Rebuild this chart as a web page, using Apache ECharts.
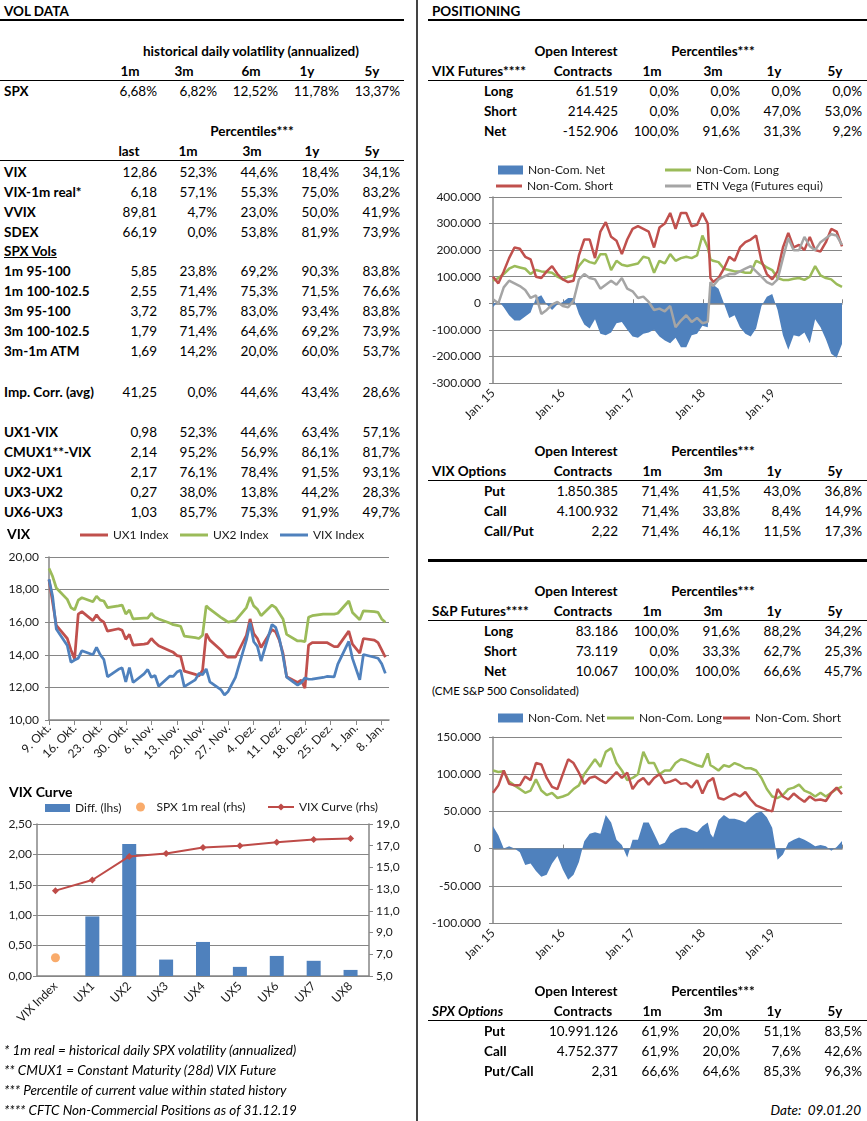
<!DOCTYPE html>
<html><head><meta charset="utf-8">
<script src="https://cdn.jsdelivr.net/npm/echarts@6/dist/echarts.min.js"></script>
<style>
body{margin:0;width:867px;height:1121px;position:relative;background:#fff;font-family:Lato,'Open Sans',sans-serif;overflow:hidden}
.t{position:absolute;white-space:pre;font-size:13.5px;line-height:16px;color:#000}
.b{font-weight:bold}
.i{font-style:italic}
.u{text-decoration:underline}
.ln{position:absolute;background:#000}
.ch{position:absolute}
</style></head><body>
<div id="c1" class="ch" style="left:0;top:522px;width:415px;height:268px"></div>
<div id="c2" class="ch" style="left:0;top:785px;width:415px;height:255px"></div>
<div id="c3" class="ch" style="left:419px;top:155px;width:448px;height:280px"></div>
<div id="c4" class="ch" style="left:419px;top:700px;width:448px;height:285px"></div>
<script>
// ---------------- TABLE DATA ----------------
const histVolHeaders = ['1m','3m','6m','1y','5y'];
const spxHistVol = ['6,68%','6,82%','12,52%','11,78%','13,37%'];
const pctHeaders = ['last','1m','3m','1y','5y'];
const volRowLabels = ['VIX','VIX-1m real*','VVIX','SDEX','1m 95-100','1m 100-102.5','3m 95-100','3m 100-102.5','3m-1m ATM','Imp. Corr. (avg)','UX1-VIX','CMUX1**-VIX','UX2-UX1','UX3-UX2','UX6-UX3'];
const volRowValues = [
 ['12,86','52,3%','44,6%','18,4%','34,1%'],
 ['6,18','57,1%','55,3%','75,0%','83,2%'],
 ['89,81','4,7%','23,0%','50,0%','41,9%'],
 ['66,19','0,0%','53,8%','81,9%','73,9%'],
 ['5,85','23,8%','69,2%','90,3%','83,8%'],
 ['2,55','71,4%','75,3%','71,5%','76,6%'],
 ['3,72','85,7%','83,0%','93,4%','83,8%'],
 ['1,79','71,4%','64,6%','69,2%','73,9%'],
 ['1,69','14,2%','20,0%','60,0%','53,7%'],
 ['41,25','0,0%','44,6%','43,4%','28,6%'],
 ['0,98','52,3%','44,6%','63,4%','57,1%'],
 ['2,14','95,2%','56,9%','86,1%','81,7%'],
 ['2,17','76,1%','78,4%','91,5%','93,1%'],
 ['0,27','38,0%','13,8%','44,2%','28,3%'],
 ['1,03','85,7%','75,3%','91,9%','49,7%']];
const posHeaders = ['Contracts','1m','3m','1y','5y'];
const vixFutLabels = ['Long','Short','Net'];
const vixFutValues = [['61.519','0,0%','0,0%','0,0%','0,0%'],['214.425','0,0%','0,0%','47,0%','53,0%'],['-152.906','100,0%','91,6%','31,3%','9,2%']];
const vixOptLabels = ['Put','Call','Call/Put'];
const vixOptValues = [['1.850.385','71,4%','41,5%','43,0%','36,8%'],['4.100.932','71,4%','33,8%','8,4%','14,9%'],['2,22','71,4%','46,1%','11,5%','17,3%']];
const spFutLabels = ['Long','Short','Net'];
const spFutValues = [['83.186','100,0%','91,6%','88,2%','34,2%'],['73.119','0,0%','33,3%','62,7%','25,3%'],['10.067','100,0%','100,0%','66,6%','45,7%']];
const spxOptLabels = ['Put','Call','Put/Call'];
const spxOptValues = [['10.991.126','61,9%','20,0%','51,1%','83,5%'],['4.752.377','61,9%','20,0%','7,6%','42,6%'],['2,31','66,6%','64,6%','85,3%','96,3%']];
const footnotes = ['* 1m real = historical daily SPX volatility (annualized)','** CMUX1 = Constant Maturity (28d) VIX Future','*** Percentile of current value within stated history','**** CFTC Non-Commercial Positions as of 31.12.19'];

// ---------------- CHART DATA ----------------
const vixDates = ['2019-10-09','2019-10-10','2019-10-11','2019-10-14','2019-10-15','2019-10-16','2019-10-17','2019-10-18','2019-10-21','2019-10-22','2019-10-23','2019-10-24','2019-10-25','2019-10-28','2019-10-29','2019-10-30','2019-10-31',
 '2019-11-01','2019-11-04','2019-11-05','2019-11-06','2019-11-07','2019-11-08','2019-11-11','2019-11-12','2019-11-13','2019-11-14','2019-11-15','2019-11-18','2019-11-19','2019-11-20','2019-11-21','2019-11-22','2019-11-25','2019-11-26','2019-11-27','2019-11-29',
 '2019-12-02','2019-12-03','2019-12-04','2019-12-05','2019-12-06','2019-12-09','2019-12-10','2019-12-11','2019-12-12','2019-12-13','2019-12-16','2019-12-17','2019-12-18','2019-12-19','2019-12-20','2019-12-23','2019-12-24','2019-12-26','2019-12-27','2019-12-30','2019-12-31',
 '2020-01-02','2020-01-03','2020-01-06','2020-01-07','2020-01-08','2020-01-09'];
const ux1 = [18.6,17.2,15.8,15.0,14.3,13.75,16.5,16.65,16.1,16.45,16.15,16.0,15.45,15.6,15.5,14.95,15.25,
 14.6,14.65,14.7,15.0,14.75,14.55,14.25,14.15,13.95,13.9,13.0,12.8,12.7,13.05,15.3,14.9,14.3,14.0,13.85,13.85,
 15.2,16.2,15.3,15.0,14.45,15.55,15.4,14.9,14.1,12.65,12.3,12.45,11.95,14.6,14.75,14.75,14.75,14.5,14.5,15.45,14.65,
 14.1,15.0,14.9,14.75,14.3,13.85];
const ux2 = [19.3,18.8,18.1,17.4,16.9,16.75,17.35,17.5,17.25,17.6,17.35,17.3,16.9,17.0,17.05,16.5,16.75,
 16.2,16.25,16.25,16.55,16.3,16.2,15.95,15.85,15.8,15.75,15.15,15.05,15.0,15.2,17.0,16.8,16.3,16.15,16.0,16.1,
 16.9,17.55,17.0,16.8,16.4,17.05,16.9,16.55,16.2,15.25,14.85,14.85,14.8,16.3,16.4,16.5,16.5,16.5,16.55,17.3,16.6,
 16.15,16.7,16.65,16.6,16.2,16.0];
const vixIdx = [18.64,17.57,15.58,14.57,13.54,13.68,13.79,14.25,14.0,14.46,14.01,13.71,12.65,13.11,13.2,12.33,13.22,
 12.3,12.83,13.1,12.62,12.73,12.07,12.69,12.68,12.94,13.05,12.05,12.46,12.86,12.78,13.13,12.34,11.87,11.54,11.75,12.62,
 14.91,15.96,14.8,14.52,13.62,15.86,15.68,14.99,13.94,12.63,12.14,12.29,12.58,12.5,12.51,12.61,12.67,12.65,13.43,14.82,13.78,
 12.47,14.02,13.85,13.79,13.45,12.86];
const vixTickLabels = ['9. Okt.','16. Okt.','23. Okt.','30. Okt.','6. Nov.','13. Nov.','20. Nov.','27. Nov.','4. Dez.','11. Dez.','18. Dez.','25. Dez.','1. Jan.','8. Jan.'];

const curveCats = ['VIX Index','UX1','UX2','UX3','UX4','UX5','UX6','UX7','UX8'];
const curveDiff = [null,0.98,2.17,0.27,0.56,0.15,0.33,0.25,0.10];
const spxReal = [6.68,null,null,null,null,null,null,null,null];
const curveVals = [12.86,13.84,16.01,16.28,16.84,16.99,17.32,17.57,17.67];

const posDates = ['2015-01-06','2015-02-03','2015-03-03','2015-03-31','2015-04-28','2015-05-26','2015-06-23','2015-07-21','2015-08-18','2015-09-15','2015-10-13','2015-11-10','2015-12-08',
 '2016-01-05','2016-02-02','2016-03-01','2016-03-29','2016-04-26','2016-05-24','2016-06-21','2016-07-19','2016-08-16','2016-09-13','2016-10-11','2016-11-08','2016-12-06',
 '2017-01-03','2017-01-31','2017-02-28','2017-03-28','2017-04-25','2017-05-23','2017-06-20','2017-07-18','2017-08-15','2017-09-12','2017-10-10','2017-11-07','2017-12-05',
 '2018-01-02','2018-01-30','2018-02-13','2018-02-27','2018-03-27','2018-04-24','2018-05-22','2018-06-19','2018-07-17','2018-08-14','2018-09-11','2018-10-09','2018-11-06','2018-12-04',
 '2019-01-01','2019-01-29','2019-02-26','2019-03-26','2019-04-23','2019-05-21','2019-06-18','2019-07-16','2019-08-13','2019-09-10','2019-10-08','2019-11-05','2019-12-03','2019-12-31'];
const posTickLabels = ['Jan. 15','Jan. 16','Jan. 17','Jan. 18','Jan. 19'];
// VIX futures, thousands of contracts
const vixNet = [-15,10,-15,-45,-65,-65,-50,-35,20,30,-5,-25,-5,
 5,20,20,-40,-80,-95,-60,-115,-120,-110,-75,-70,-100,
 -125,-130,-115,-110,-100,-125,-140,-150,-130,-165,-165,-120,-115,
 -85,-90,65,70,55,0,-55,-45,-90,-115,-125,-95,-10,25,
 35,-25,-120,-175,-120,-125,-110,-150,-60,-90,-135,-190,-205,-152.906];
const vixLong = [85,95,110,130,140,135,130,110,125,120,118,115,100,
 90,100,105,140,165,155,150,185,185,125,160,145,140,
 145,150,175,170,115,160,150,185,160,170,175,170,180,
 255,210,165,160,155,130,125,120,120,115,115,160,150,135,
 125,95,88,88,92,95,88,100,140,105,95,90,72,61.519];
const vixShort = [100,75,120,170,210,205,175,165,100,95,120,140,110,
 90,80,85,180,240,240,170,270,305,250,235,185,240,
 280,290,280,270,210,285,300,340,280,340,340,290,295,
 340,300,95,80,95,130,175,160,210,230,240,255,160,110,
 90,120,210,265,210,220,200,250,200,195,230,280,270,214.425];
const etnVega = [15,0,60,85,75,65,50,20,30,-40,-25,-5,5,
 -10,-15,10,90,110,95,90,55,70,85,70,95,55,
 45,20,25,5,-25,-20,-30,-10,-90,-65,-45,-70,-55,
 -75,-70,80,65,90,100,110,110,120,130,140,120,100,80,
 70,90,170,245,200,200,250,215,200,230,245,260,255,220];
// S&P futures, thousands of contracts
const spNet = [30,18,0,3,0,-5,-22,-20,-30,-38,-35,-20,-10,
 -28,-42,-35,-18,10,20,22,20,45,35,12,5,-12,
 12,12,35,35,20,5,8,20,25,28,28,25,22,
 30,35,20,15,38,45,40,40,38,35,42,48,50,42,
 28,-15,-8,8,12,15,12,8,3,5,3,-3,2,10.067];
const spLong = [105,103,104,90,85,80,75,78,93,78,72,75,68,
 70,73,80,85,100,110,120,110,130,135,115,105,92,
 95,100,130,115,115,100,105,105,115,120,118,115,112,
 110,128,112,110,105,112,110,115,112,108,108,105,95,80,
 70,68,72,80,82,86,78,75,70,75,70,75,80,83.186];
const spShort = [75,85,105,87,85,85,97,92,115,113,95,83,80,
 100,120,115,102,87,95,97,92,88,95,103,95,102,
 80,90,95,86,95,100,88,90,93,87,88,82,92,
 74,90,92,95,68,66,70,74,70,76,66,58,55,52,
 50,80,70,66,74,68,63,70,65,66,64,75,82,73.119];

// ---------------- LAYOUT ----------------
const W = 867;
function T(text,x,y,align,cls,size){
  const d=document.createElement('div');
  d.className='t '+(cls||'');
  d.textContent=text;
  if(size) d.style.fontSize=size+'px';
  d.style.top=(y-8)+'px';
  if(align==='r') d.style.right=(W-x)+'px';
  else if(align==='c'){ d.style.left=x+'px'; d.style.transform='translateX(-50%)'; }
  else d.style.left=x+'px';
  document.body.appendChild(d);
}
function L(x,y,w,h,c){
  const d=document.createElement('div'); d.className='ln';
  d.style.left=x+'px'; d.style.top=y+'px'; d.style.width=w+'px'; d.style.height=h+'px';
  if(c) d.style.background=c;
  document.body.appendChild(d);
}
// separators
L(416,0,2,1121,'#444');
L(0,19,404,1.5); L(428,19,439,1.5);
T('VOL DATA',4,11,'l','b');
T('POSITIONING',432,11,'l','b');

// left tables
const leftColsR=[157,217,278,339,400];
T('historical daily volatility (annualized)',251,51,'c','b');
const histHX=[130,184,251,307,372];
histVolHeaders.forEach((h,i)=>T(h,histHX[i],71,'c','b'));
L(0,80,404,1);
T('SPX',4,91,'l','b');
spxHistVol.forEach((v,i)=>T(v,leftColsR[i],91,'r'));
T('Percentiles***',252,131,'c','b');
const pctHX=[129,188,252,312,372];
pctHeaders.forEach((h,i)=>T(h,pctHX[i],151,'c','b'));
L(0,160,404,1);
const volRowY=[172,192,212,232,271,291,311,331,351,392,432,452,472,492,512];
volRowLabels.forEach((lab,r)=>{
  T(lab,4,volRowY[r],'l','b');
  volRowValues[r].forEach((v,i)=>T(v,leftColsR[i],volRowY[r],'r'));
});
T('SPX Vols',4,251,'l','b u');

// right tables
const rightColsR=[618,679,740,801,862];
const posHX=[583,652,713,774,835];
function posTable(y0,title,titleCls,labels,values){
  T('Open Interest',576,y0,'c','b');
  T('Percentiles***',713,y0,'c','b');
  T(title,432,y0+20,'l',titleCls);
  posHeaders.forEach((h,i)=>T(h,posHX[i],y0+20,'c','b'));
  L(428,y0+29,439,1);
  labels.forEach((lab,r)=>{
    const y=y0+40+20*r;
    T(lab,484,y,'l','b');
    values[r].forEach((v,i)=>T(v,rightColsR[i],y,'r'));
  });
}
posTable(51,'VIX Futures****','b',vixFutLabels,vixFutValues);
posTable(451,'VIX Options','b',vixOptLabels,vixOptValues);
L(428,559,439,3);
posTable(591,'S&P Futures****','b',spFutLabels,spFutValues);
T('(CME S&P 500 Consolidated)',432,691,'l','',11.5);
posTable(991,'SPX Options','b i',spxOptLabels,spxOptValues);
T('Date:  09.01.20',861,1110,'r','i');
footnotes.forEach((f,i)=>T(f,4,1050+20*i,'l','i'));

// ---------------- CHARTS ----------------
const AX='#868686', TXT='#1a1a1a', FONT='Lato, "Open Sans", sans-serif';
const DAY=86400000;
const legTxt={fontSize:12,color:TXT,fontFamily:FONT};
function leg(data,left,top,iw,ih){
  return {data:data,left:left,top:top,itemWidth:iw,itemHeight:ih,padding:0,itemGap:0,selectedMode:false,textStyle:legTxt};
}
const lineIcon=name=>[{name:name,icon:'rect'}];
function lineS(name,data,color,w,extra){
  return Object.assign({type:'line',name:name,data:data,symbol:'none',lineStyle:{color:color,width:w},itemStyle:{color:color}},extra||{});
}

// Chart 1: VIX
const vBase=Date.parse(vixDates[0]);
const vx=vixDates.map(d=>Math.round((Date.parse(d)-vBase)/DAY));
const pr=(xs,ys)=>xs.map((x,i)=>[x,ys[i]]);
const c1=echarts.init(document.getElementById('c1'));
c1.setOption({
  animation:false,
  textStyle:{fontFamily:FONT},
  title:{text:'VIX',left:7,top:5,padding:0,textStyle:{fontSize:14,fontWeight:'bold',color:'#000',fontFamily:FONT}},
  legend:[leg(lineIcon('UX1 Index'),80,7,28,3),leg(lineIcon('UX2 Index'),180,7,28,3),leg(lineIcon('VIX Index'),280,7,28,3)],
  grid:{left:49,top:35,right:26,bottom:70},
  xAxis:{type:'value',min:0,max:93,interval:7,
    axisLine:{onZero:false,lineStyle:{color:AX,width:1.5}},
    axisTick:{length:5,lineStyle:{color:AX}},splitLine:{show:false},
    axisLabel:{rotate:45,fontSize:12,color:TXT,showMaxLabel:false,margin:6,
      formatter:v=>(v%7===0&&vixTickLabels[v/7])?vixTickLabels[v/7]:''}},
  yAxis:{type:'value',min:10,max:20,interval:2,
    axisLine:{show:true,lineStyle:{color:AX,width:1.5}},
    axisTick:{show:true,length:4,lineStyle:{color:AX}},
    splitLine:{lineStyle:{color:AX}},
    axisLabel:{fontSize:12,color:TXT,margin:10,formatter:v=>v.toFixed(2).replace('.',',')}},
  series:[lineS('UX1 Index',pr(vx,ux1),'#C0504D',2.75),
          lineS('UX2 Index',pr(vx,ux2),'#9BBB59',2.75),
          lineS('VIX Index',pr(vx,vixIdx),'#4F81BD',2.75)]
});

// Chart 2: VIX Curve
const c2=echarts.init(document.getElementById('c2'));
c2.setOption({
  animation:false,
  textStyle:{fontFamily:FONT},
  title:{text:'VIX Curve',left:9,top:0,padding:0,textStyle:{fontSize:14,fontWeight:'bold',color:'#000',fontFamily:FONT}},
  legend:[leg([{name:'Diff. (lhs)',icon:'rect'}],45,17,25,8),
          leg(['SPX 1m real (rhs)'],136,16,22,9),
          leg(['VIX Curve (rhs)'],267,16,26,9)],
  grid:{left:37,top:39,right:46,bottom:64},
  xAxis:{type:'category',data:curveCats,
    axisLine:{lineStyle:{color:AX,width:1.5}},
    axisTick:{length:5,lineStyle:{color:AX}},
    axisLabel:{rotate:45,fontSize:12,color:TXT,interval:0,margin:8}},
  yAxis:[{type:'value',min:0,max:2.5,interval:0.5,
      axisLine:{show:true,lineStyle:{color:AX,width:1.5}},
      axisTick:{show:true,length:4,lineStyle:{color:AX}},
      splitLine:{lineStyle:{color:AX}},
      axisLabel:{fontSize:12,color:TXT,margin:5,formatter:v=>v.toFixed(2).replace('.',',')}},
    {type:'value',min:5,max:19,interval:2,position:'right',
      axisLine:{show:true,lineStyle:{color:AX,width:1.5}},
      axisTick:{show:true,length:4,lineStyle:{color:AX}},
      splitLine:{show:false},
      axisLabel:{fontSize:12,color:TXT,margin:7,formatter:v=>v.toFixed(1).replace('.',',')}}],
  series:[
    {type:'bar',name:'Diff. (lhs)',data:curveDiff,barWidth:14,itemStyle:{color:'#4F81BD'}},
    {type:'scatter',name:'SPX 1m real (rhs)',yAxisIndex:1,data:spxReal,symbolSize:9,itemStyle:{color:'#F79646'}},
    {type:'line',name:'VIX Curve (rhs)',yAxisIndex:1,data:curveVals,symbol:'diamond',symbolSize:7,
      lineStyle:{color:'#BE4B48',width:2},itemStyle:{color:'#BE4B48'}}
  ]
});

// Positioning charts
const pBase=Date.parse(posDates[0]);
const px=posDates.map(d=>(Date.parse(d)-pBase)/(365.25*DAY));
const pMax=px[px.length-1];
const kFmt=v=>v===0?'0':(v+'.000');
function posX(){
  return [
    {type:'value',min:0,max:pMax,interval:1,
      axisLine:{show:false,onZero:false},axisTick:{show:false},splitLine:{show:false},
      axisLabel:{rotate:45,fontSize:12,color:TXT,showMaxLabel:false,margin:8,
        formatter:v=>(Number.isInteger(v)&&posTickLabels[v])?posTickLabels[v]:''}},
    {type:'value',min:0,max:pMax,interval:1,
      axisLine:{show:true,onZero:true,lineStyle:{color:AX,width:1.5}},
      axisTick:{show:true,length:4,lineStyle:{color:AX}},
      axisLabel:{show:false},splitLine:{show:false}}
  ];
}
function posY(min,max,step){
  return {type:'value',min:min,max:max,interval:step,
    axisLine:{show:true,onZero:false,lineStyle:{color:AX,width:1.5}},
    axisTick:{show:true,length:4,lineStyle:{color:AX}},
    splitLine:{lineStyle:{color:AX}},
    axisLabel:{fontSize:12,color:TXT,margin:12,formatter:kFmt}};
}
const areaS=(name,data)=>({type:'line',name:name,data:data,symbol:'none',
  lineStyle:{width:0},itemStyle:{color:'#4F81BD'},areaStyle:{color:'#4F81BD',opacity:1,origin:0}});

const c3=echarts.init(document.getElementById('c3'));
c3.setOption({
  animation:false,
  textStyle:{fontFamily:FONT},
  legend:[leg([{name:'Non-Com. Net',icon:'rect'}],79,9,25,9),
          leg(lineIcon('Non-Com. Long'),246,9,26,3),
          leg(lineIcon('Non-Com. Short'),77,25,26,3),
          leg(lineIcon('ETN Vega (Futures equi)'),246,25,26,3)],
  grid:{left:74,top:42,right:25,bottom:52},
  xAxis:posX(),
  yAxis:posY(-300,400,100),
  series:[areaS('Non-Com. Net',pr(px,vixNet)),
    lineS('Non-Com. Long',pr(px,vixLong),'#9BBB59',2.5),
    lineS('Non-Com. Short',pr(px,vixShort),'#C0504D',2.5),
    lineS('ETN Vega (Futures equi)',pr(px,etnVega),'#A5A5A5',2.5)]
});

const c4=echarts.init(document.getElementById('c4'));
c4.setOption({
  animation:false,
  textStyle:{fontFamily:FONT},
  legend:[leg([{name:'Non-Com. Net',icon:'rect'}],79,12,25,9),
          leg(lineIcon('Non-Com. Long'),188,12,27,3),
          leg(lineIcon('Non-Com. Short'),304,12,27,3)],
  grid:{left:74,top:37,right:25,bottom:62},
  xAxis:posX(),
  yAxis:posY(-100,150,50),
  series:[areaS('Non-Com. Net',pr(px,spNet)),
    lineS('Non-Com. Long',pr(px,spLong),'#9BBB59',2.5),
    lineS('Non-Com. Short',pr(px,spShort),'#C0504D',2.5)]
});
</script>
</body></html>
